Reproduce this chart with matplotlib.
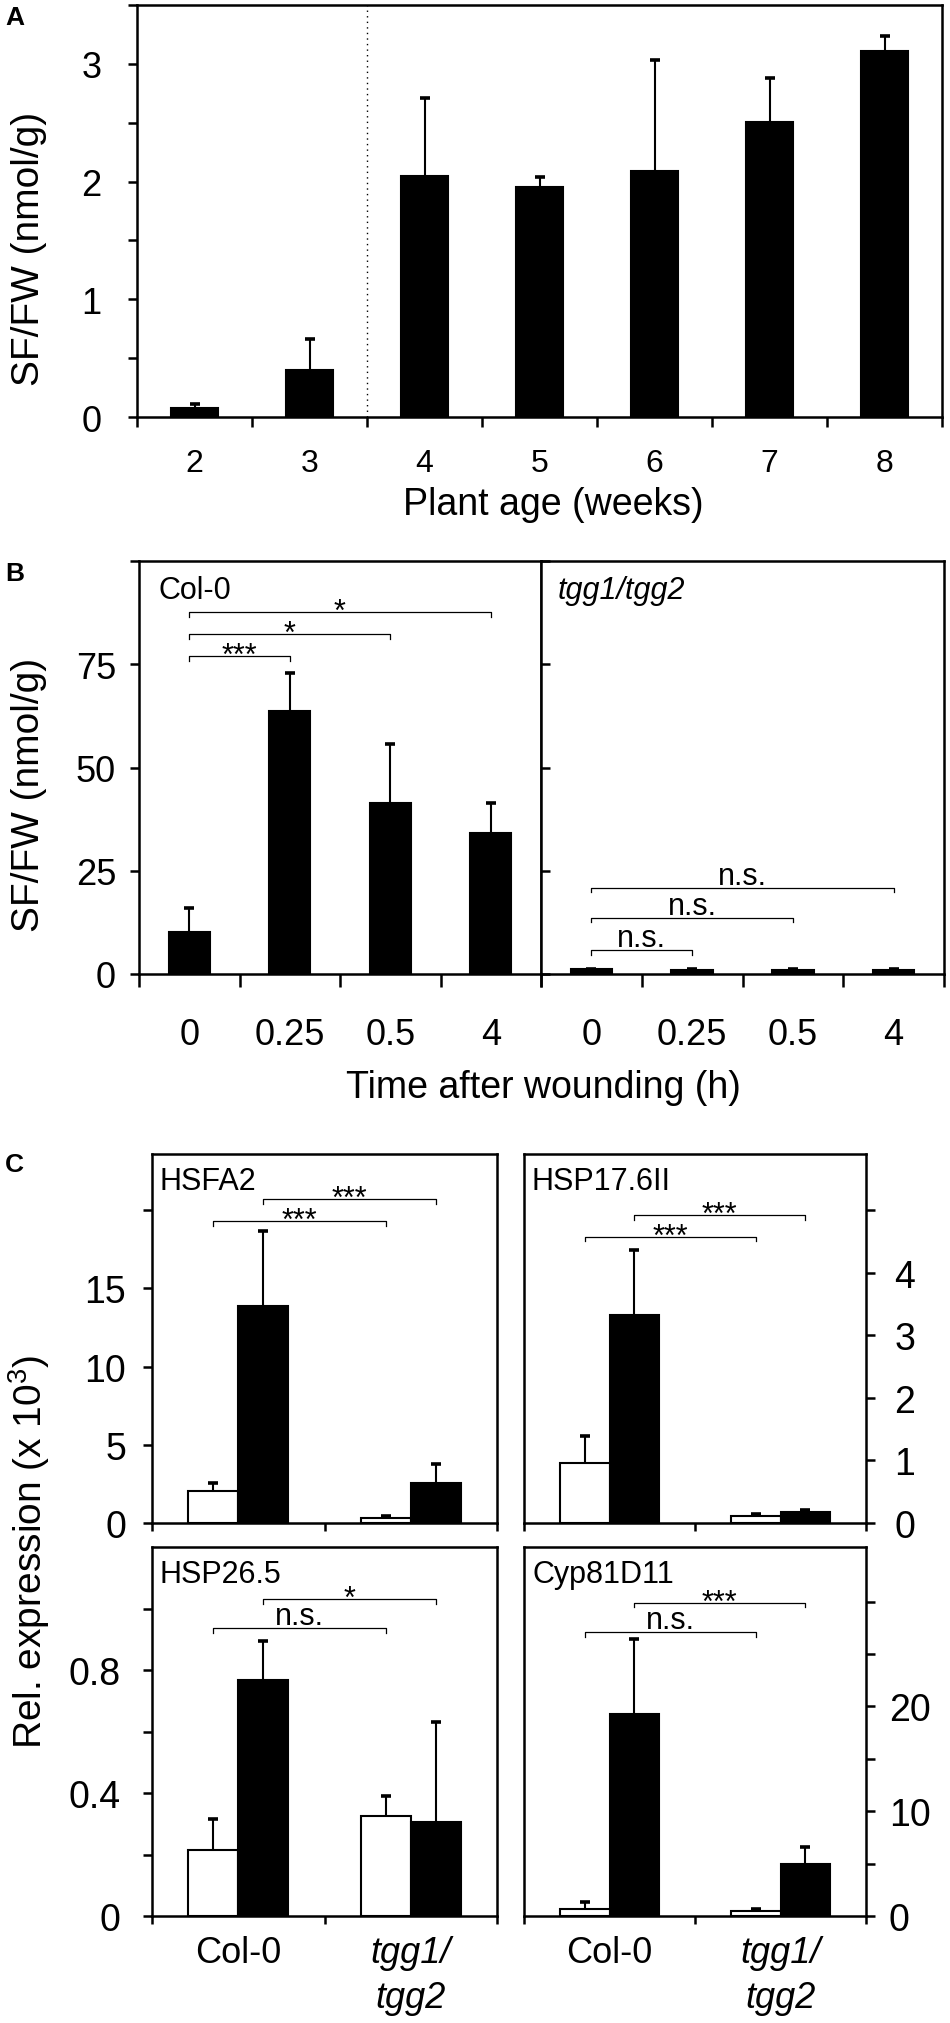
import numpy as np
import matplotlib
matplotlib.use("Agg")
import matplotlib.pyplot as plt

# ==============================================================================
# DATA
# ==============================================================================
# A: SF content vs plant age
weeks = ["2", "3", "4", "5", "6", "7", "8"]
sf_age = [0.08, 0.40, 2.05, 1.95, 2.09, 2.51, 3.11]
sf_age_err = [0.03, 0.26, 0.66, 0.09, 0.94, 0.37, 0.13]

# B: SF content after wounding
wound_times = ["0", "0.25", "0.5", "4"]
sf_col = [10.2, 63.8, 41.4, 34.2]
sf_col_err = [5.8, 9.2, 14.2, 7.1]
sf_tgg = [1.1, 1.0, 1.0, 1.0]
sf_tgg_err = [0.2, 0.2, 0.2, 0.2]
col_sig_to = [1, 2, 3]
col_sig_y = [76.9, 82.3, 87.6]
col_sig_lab = ["***", "*", "*"]
tgg_sig_to = [1, 2, 3]
tgg_sig_y = [5.8, 13.6, 20.9]
tgg_sig_lab = ["n.s.", "n.s.", "n.s."]

# C: relative expression, [Col-0, tgg1/tgg2]; white = control, black = wounded
genotypes = ["Col-0", "tgg1/\ntgg2"]

hsfa2_ctrl = [2.05, 0.30]
hsfa2_ctrl_err = [0.50, 0.15]
hsfa2_wound = [13.9, 2.55]
hsfa2_wound_err = [4.8, 1.25]
hsfa2_sig_y = [19.3, 20.7]
hsfa2_sig = ["***", "***"]

hsp17_ctrl = [0.96, 0.11]
hsp17_ctrl_err = [0.43, 0.04]
hsp17_wound = [3.32, 0.17]
hsp17_wound_err = [1.04, 0.04]
hsp17_sig_y = [4.58, 4.92]
hsp17_sig = ["***", "***"]

hsp26_ctrl = [0.215, 0.326]
hsp26_ctrl_err = [0.10, 0.064]
hsp26_wound = [0.767, 0.306]
hsp26_wound_err = [0.127, 0.324]
hsp26_sig_y = [0.935, 1.03]
hsp26_sig = ["n.s.", "*"]

cyp_ctrl = [0.7, 0.5]
cyp_ctrl_err = [0.6, 0.15]
cyp_wound = [19.3, 5.0]
cyp_wound_err = [7.1, 1.6]
cyp_sig_y = [27.1, 29.9]
cyp_sig = ["n.s.", "***"]

# ==============================================================================
# STYLE
# ==============================================================================
W, H = 950, 2024
plt.rcParams["font.family"] = ["Liberation Sans", "DejaVu Sans"]
plt.rcParams["mathtext.fontset"] = "custom"
plt.rcParams["mathtext.rm"] = "Liberation Sans"
plt.rcParams["mathtext.it"] = "Liberation Sans:italic"
plt.rcParams["axes.linewidth"] = 1.8

SPINE_W = 1.8
ANNOT_FS = 22


def rect(left, top, right, bottom):
    return [left / W, 1 - bottom / H, (right - left) / W, (bottom - top) / H]


def fxy(x, y):
    return x / W, 1 - y / H


def bars_up_err(ax, x, vals, errs, width, face):
    """Bars with a one-sided (upper) error bar and a cap only at the top."""
    vals = np.asarray(vals, dtype=float)
    tops = vals + np.asarray(errs, dtype=float)
    ax.bar(x, vals, width, color=face, edgecolor="black", lw=1.5, zorder=2)
    ax.vlines(x, vals, tops, color="black", lw=1.5, zorder=3)
    ax.plot(x, tops, ls="none", marker="_", markersize=7, mew=2.6,
            color="black", zorder=3)


def bracket(ax, x1, x2, y, label, leg):
    ax.plot([x1, x1, x2, x2], [y - leg, y, y, y - leg], color="black",
            lw=0.9, clip_on=False)
    dy = -8 if label.startswith("*") else 4
    ax.annotate(label, xy=((x1 + x2) / 2, y), xytext=(0, dy),
                textcoords="offset pixels", ha="center", va="baseline",
                fontsize=ANNOT_FS)


def inner_label(ax, text, dx, dy, italic=False):
    ax.annotate(text, xy=(0, 1), xycoords="axes fraction", xytext=(dx, -dy),
                textcoords="offset pixels", ha="left", va="top",
                fontsize=ANNOT_FS, style="italic" if italic else "normal")


fig = plt.figure(figsize=(W / 100, H / 100), dpi=100)

# ==============================================================================
# PANEL A
# ==============================================================================
ax_a = fig.add_axes(rect(137, 6, 942, 418))
xa = np.arange(2, 2 + len(weeks))
bars_up_err(ax_a, xa, sf_age, sf_age_err, 0.41, "black")
ax_a.axvline(3.5, color="black", lw=1.0, linestyle=(0, (1, 3)))
ax_a.set_xlim(1.5, 8.5)
ax_a.set_ylim(0, 3.5)
ax_a.set_xticks(xa)
ax_a.set_xticklabels(weeks)
ax_a.set_xticks(np.arange(1.5, 8.6, 1.0), minor=True)
ax_a.set_yticks([0, 1, 2, 3])
ax_a.set_yticks([0.5, 1.5, 2.5, 3.5], minor=True)
ax_a.tick_params(axis="x", which="major", length=0, pad=22, labelsize=23)
ax_a.tick_params(axis="x", which="minor", length=7, width=SPINE_W)
ax_a.tick_params(axis="y", which="both", length=6.5, width=SPINE_W,
                 pad=19, labelsize=26)
fig.text(*fxy(553, 505), "Plant age (weeks)", ha="center", va="center",
         fontsize=27)
fig.text(*fxy(29, 249), "SF/FW (nmol/g)", rotation=90, ha="center",
         va="center", fontsize=28)
fig.text(*fxy(5, 6), "A", ha="left", va="top", fontsize=19,
         fontweight="bold")

# ==============================================================================
# PANEL B
# ==============================================================================
ax_b1 = fig.add_axes(rect(139, 562, 541, 975))
ax_b2 = fig.add_axes(rect(541, 562, 944, 975))
xb = np.arange(len(wound_times))
for ax, vals, errs in [(ax_b1, sf_col, sf_col_err), (ax_b2, sf_tgg, sf_tgg_err)]:
    bars_up_err(ax, xb, vals, errs, 0.41, "black")
    ax.set_xlim(-0.5, 3.5)
    ax.set_ylim(0, 100)
    ax.set_xticks(xb)
    ax.set_xticklabels(wound_times)
    ax.set_xticks(np.arange(-0.5, 3.6, 1.0), minor=True)
    ax.tick_params(axis="x", which="major", length=0, pad=31, labelsize=26)
    ax.tick_params(axis="x", which="minor", length=9, width=SPINE_W)

ax_b1.set_yticks([0, 25, 50, 75])
ax_b1.set_yticks([100], minor=True)
ax_b1.tick_params(axis="y", which="both", length=6.5, width=SPINE_W,
                  pad=10, labelsize=26)
ax_b2.set_yticks([0, 25, 50, 75, 100])
ax_b2.set_yticklabels([])
ax_b2.tick_params(axis="y", which="both", direction="in", length=6.5,
                  width=SPINE_W)

for to, y, lab in zip(col_sig_to, col_sig_y, col_sig_lab):
    bracket(ax_b1, 0, to, y, lab, 1.1)
for to, y, lab in zip(tgg_sig_to, tgg_sig_y, tgg_sig_lab):
    bracket(ax_b2, 0, to, y, lab, 1.1)

inner_label(ax_b1, "Col-0", 19, 14)
inner_label(ax_b2, "tgg1/tgg2", 17, 14, italic=True)
fig.text(*fxy(543, 1088), "Time after wounding (h)", ha="center",
         va="center", fontsize=27)
fig.text(*fxy(29, 795), "SF/FW (nmol/g)", rotation=90, ha="center",
         va="center", fontsize=28)
fig.text(*fxy(5, 562), "B", ha="left", va="top", fontsize=19,
         fontweight="bold")

# ==============================================================================
# PANEL C
# ==============================================================================
panels = [
    (rect(152, 1155, 497, 1524), "HSFA2", hsfa2_ctrl, hsfa2_ctrl_err,
     hsfa2_wound, hsfa2_wound_err, hsfa2_sig_y, hsfa2_sig, 23.6, "left"),
    (rect(524, 1155, 866, 1524), "HSP17.6II", hsp17_ctrl, hsp17_ctrl_err,
     hsp17_wound, hsp17_wound_err, hsp17_sig_y, hsp17_sig, 5.9, "right"),
    (rect(152, 1548, 497, 1917), "HSP26.5", hsp26_ctrl, hsp26_ctrl_err,
     hsp26_wound, hsp26_wound_err, hsp26_sig_y, hsp26_sig, 1.2, "left"),
    (rect(524, 1548, 866, 1917), "Cyp81D11", cyp_ctrl, cyp_ctrl_err,
     cyp_wound, cyp_wound_err, cyp_sig_y, cyp_sig, 35.2, "right"),
]

xc = np.arange(len(genotypes)) + 0.5
off = 0.145
for i, (r, name, ctrl, ctrl_e, wnd, wnd_e, sig_y, sig, ymax, side) in enumerate(panels):
    ax = fig.add_axes(r)
    bars_up_err(ax, xc - off, ctrl, ctrl_e, 0.29, "white")
    bars_up_err(ax, xc + off, wnd, wnd_e, 0.29, "black")
    ax.set_xlim(0, 2)
    ax.set_ylim(0, ymax)
    leg = 0.013 * ymax
    bracket(ax, xc[0] - off, xc[1] - off, sig_y[0], sig[0], leg)
    bracket(ax, xc[0] + off, xc[1] + off, sig_y[1], sig[1], leg)
    inner_label(ax, name, 8, 12)

    ax.set_xticks([0, 1, 2])
    ax.set_xticklabels([])
    ax.tick_params(axis="x", which="major", length=6, width=SPINE_W)
    ax.set_xticks(xc, minor=True)
    if i >= 2:
        ax.set_xticklabels(genotypes, minor=True, fontsize=26,
                           linespacing=1.35)
        ax.get_xticklabels(minor=True)[1].set_style("italic")
        ax.tick_params(axis="x", which="minor", length=0, pad=14)
    else:
        ax.set_xticklabels([], minor=True)
        ax.tick_params(axis="x", which="minor", length=0)

    if name == "HSFA2":
        ax.set_yticks([0, 5, 10, 15, 20])
        ax.set_yticklabels(["0", "5", "10", "15", ""])
    elif name == "HSP17.6II":
        ax.set_yticks([0, 1, 2, 3, 4, 5])
        ax.set_yticklabels(["0", "1", "2", "3", "4", ""])
    elif name == "HSP26.5":
        ax.set_yticks([0, 0.4, 0.8])
        ax.set_yticklabels(["0", "0.4", "0.8"])
        ax.set_yticks([0.2, 0.6, 1.0], minor=True)
    else:
        ax.set_yticks([0, 5, 10, 15, 20, 25, 30])
        ax.set_yticklabels(["0", "", "10", "", "20", "", ""])

    if side == "right":
        ax.yaxis.tick_right()
        pad = 14 if name == "HSP17.6II" else 10
    else:
        pad = 12 if name == "HSFA2" else 16
    ax.tick_params(axis="y", which="both", length=6.5, width=SPINE_W,
                   pad=pad, labelsize=27)

fig.text(*fxy(29, 1552), "Rel. expression (x 10$^{3}$)", rotation=90,
         ha="center", va="center", fontsize=28)
fig.text(*fxy(5, 1153), "C", ha="left", va="top", fontsize=19,
         fontweight="bold")

fig.savefig("out.png", dpi=100)
